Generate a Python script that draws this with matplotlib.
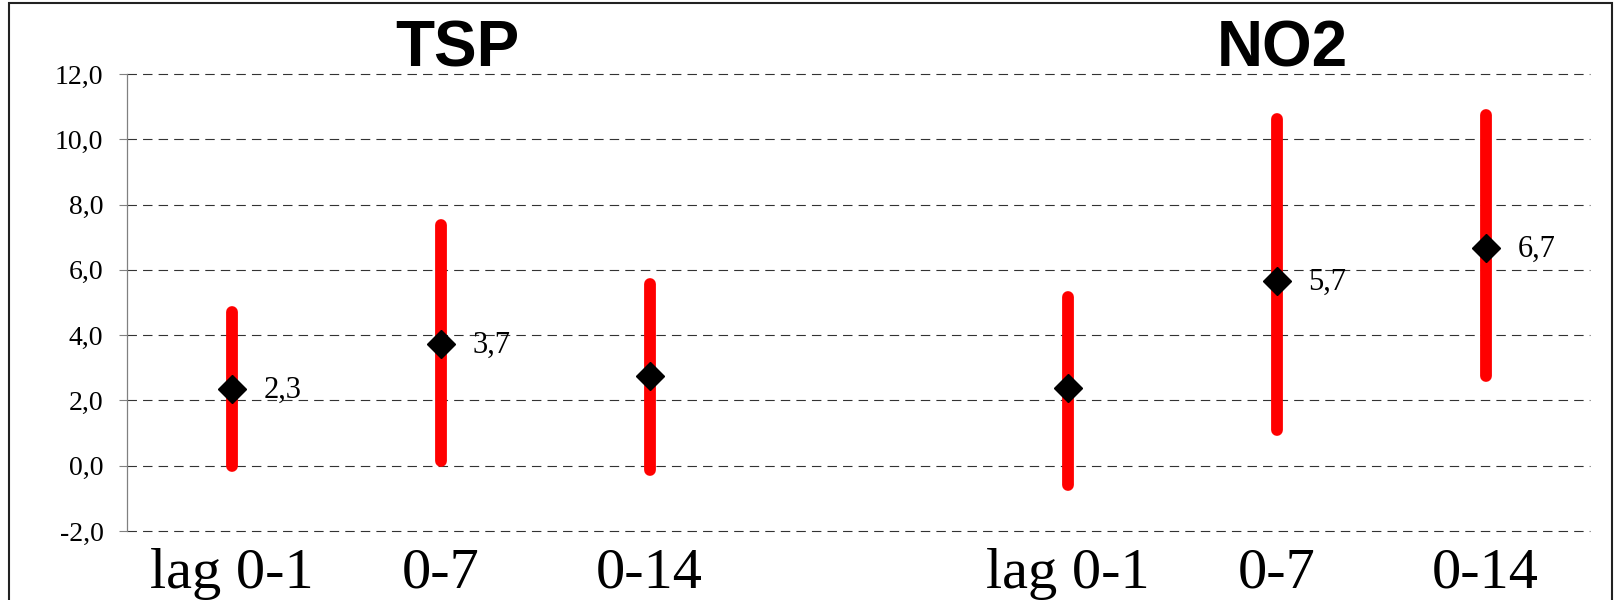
import matplotlib
matplotlib.use('Agg')
import matplotlib.pyplot as plt
from matplotlib.patches import Rectangle

# data
pollutants = ["TSP", "NO2"]
lags = ["lag 0-1", "0-7", "0-14"]
est_tsp = [2.34, 3.72, 2.74]
low_tsp = [0.0, 0.15, -0.12]
high_tsp = [4.71, 7.36, 5.57]
est_no2 = [2.38, 5.66, 6.66]
low_no2 = [-0.58, 1.10, 2.74]
high_no2 = [5.18, 10.61, 10.74]
label_tsp = ["2,3", "3,7", ""]
label_no2 = ["", "5,7", "6,7"]
yticks = [-2, 0, 2, 4, 6, 8, 10, 12]

serif = ['Liberation Serif', 'DejaVu Serif']
sans = ['Liberation Sans', 'DejaVu Sans']

fig = plt.figure(figsize=(16.14, 6), dpi=100)
ax = fig.add_axes([127 / 1614, 1 - 531 / 600, (1590 - 127) / 1614, (531 - 74) / 600])

groups = [(est_tsp, low_tsp, high_tsp, label_tsp), (est_no2, low_no2, high_no2, label_no2)]
for g, (est, lo, hi, labels) in enumerate(groups):
    xs = [i + 4 * g for i in range(len(lags))]
    ax.vlines(xs, lo, hi, color='#ff0000', linewidth=8.5, capstyle='round', zorder=3)
    ax.plot(xs, est, linestyle='none', marker='D', markersize=14,
            color='black', zorder=4)
    for x, y, t in zip(xs, est, labels):
        if t:
            ax.annotate(t, (x, y), xytext=(23, -1), textcoords='offset points',
                        ha='left', va='center', fontsize=22, family=serif)

ax.set_xlim(-0.5, 6.5)
ax.set_ylim(-2, 12)
ax.set_xticks(range(7))
ax.set_xticklabels(lags + [""] + lags, fontsize=42, family=serif)
ax.tick_params(axis='x', length=0, pad=12)
ax.set_yticks(yticks)
ax.set_yticklabels([f"{v:.1f}".replace('.', ',') for v in yticks], fontsize=20, family=serif)
ax.tick_params(axis='y', direction='out', length=6, width=0.8, color='#808080', pad=11)

for s in ['top', 'right', 'bottom']:
    ax.spines[s].set_visible(False)
ax.spines['left'].set_color('#808080')
ax.spines['left'].set_linewidth(0.9)

ax.yaxis.grid(True, color='#333333', linewidth=0.8, linestyle=(0, (8.5, 5.5)))
ax.set_axisbelow(True)
for line in ax.get_ygridlines():
    line.set_clip_on(False)

# panel titles
tr = ax.get_xaxis_transform()
ax.text(1.08, 1.0175, pollutants[0], transform=tr, ha='center', va='baseline',
        fontsize=46, fontweight='bold', family=sans)
ax.text(5.03, 1.0175, pollutants[1], transform=tr, ha='center', va='baseline',
        fontsize=46, fontweight='bold', family=sans)

# outer frame
fig.patches.append(Rectangle((9 / 1614, -0.02), (1612 - 9) / 1614, 1.02 - 3 / 600,
                             transform=fig.transFigure, fill=False,
                             edgecolor='#222222', linewidth=1.5))

plt.savefig("out.png", dpi=100)
